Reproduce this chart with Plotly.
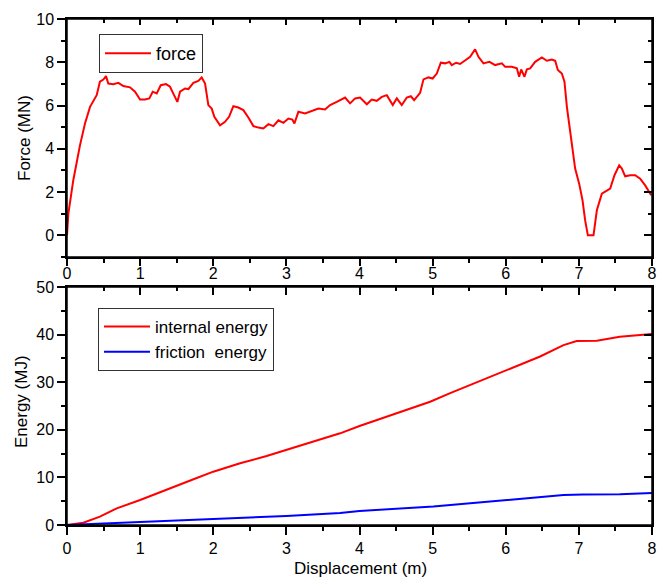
import plotly.graph_objects as go

# ---------------- data ----------------
force_x = [0.0, 0.018, 0.086, 0.178, 0.246, 0.315, 0.406, 0.45, 0.497, 0.533, 0.565, 0.634, 0.702,
           0.77, 0.862, 0.93, 0.999, 1.067, 1.126, 1.172, 1.227, 1.282, 1.354, 1.409, 1.464, 1.509,
           1.546, 1.614, 1.66, 1.728, 1.796, 1.842, 1.888, 1.933, 1.979, 2.015, 2.093, 2.161, 2.216,
           2.275, 2.343, 2.412, 2.48, 2.549, 2.617, 2.685, 2.754, 2.822, 2.891, 2.959, 3.028, 3.082,
           3.11, 3.164, 3.256, 3.347, 3.438, 3.529, 3.598, 3.689, 3.803, 3.871, 3.94, 4.008, 4.1,
           4.168, 4.236, 4.305, 4.373, 4.455, 4.51, 4.578, 4.647, 4.702, 4.747, 4.829, 4.875, 4.943,
           5.0, 5.057, 5.112, 5.17, 5.23, 5.262, 5.321, 5.376, 5.445, 5.513, 5.581, 5.627, 5.695,
           5.777, 5.855, 5.947, 5.992, 6.083, 6.152, 6.183, 6.211, 6.256, 6.289, 6.334, 6.402, 6.494,
           6.562, 6.631, 6.676, 6.712, 6.767, 6.803, 6.836, 6.881, 6.926, 6.949, 7.004, 7.05, 7.086,
           7.123, 7.2, 7.246, 7.314, 7.383, 7.428, 7.487, 7.551, 7.588, 7.633, 7.702, 7.77, 7.838,
           7.907, 7.989]
force_y = [0.0, 1.0, 2.55, 4.17, 5.17, 5.94, 6.48, 7.1, 7.2, 7.36, 7.02, 6.99, 7.05,
           6.9, 6.84, 6.64, 6.28, 6.28, 6.33, 6.64, 6.56, 6.94, 6.99, 6.87, 6.48, 6.17,
           6.64, 6.79, 6.76, 7.05, 7.14, 7.3, 7.02, 6.02, 5.86, 5.48, 5.09, 5.25, 5.48,
           5.97, 5.91, 5.79, 5.45, 5.05, 4.98, 4.94, 5.14, 5.05, 5.32, 5.2, 5.4, 5.35,
           5.17, 5.71, 5.63, 5.75, 5.86, 5.82, 6.02, 6.17, 6.37, 6.1, 6.33, 6.37, 6.06,
           6.28, 6.22, 6.4, 6.48, 6.02, 6.33, 6.02, 6.37, 6.43, 6.25, 6.59, 7.21, 7.3,
           7.25, 7.48, 7.98, 7.95, 8.02, 7.87, 7.98, 7.92, 8.07, 8.25, 8.6, 8.25, 7.95,
           8.02, 7.87, 7.95, 7.79, 7.79, 7.72, 7.33, 7.67, 7.33, 7.67, 7.72, 8.02, 8.22,
           8.07, 8.13, 8.07, 7.64, 7.48, 7.1, 5.94, 4.71, 3.47, 3.09, 2.39, 1.62, 0.69,
           0.0, 0.0, 1.16, 1.93, 2.08, 2.16, 2.78, 3.24, 3.09, 2.73, 2.78, 2.78, 2.62,
           2.31, 1.85]

internal_x = [0.0, 0.223, 0.45, 0.68, 1.0, 1.364, 1.73, 2.0, 2.367, 2.73, 3.0, 3.37, 3.735,
              4.0, 4.51, 4.966, 5.24, 5.51, 6.015, 6.47, 6.79, 6.97, 7.246, 7.56, 8.0]
internal_y = [0.0, 0.49, 1.75, 3.5, 5.25, 7.35, 9.6, 11.2, 12.96, 14.5, 15.76, 17.5, 19.26,
              20.8, 23.47, 25.9, 27.7, 29.4, 32.6, 35.4, 37.8, 38.66, 38.7, 39.55, 40.1]

friction_x = [0.0, 0.45, 1.0, 2.0, 3.0, 3.735, 4.0, 5.01, 5.51, 6.015, 6.52, 6.79, 7.06, 7.56, 8.0]
friction_y = [0.0, 0.28, 0.7, 1.3, 1.9, 2.5, 2.94, 3.9, 4.6, 5.3, 6.0, 6.3, 6.4, 6.46, 6.7]

W, H = 669, 579
FONT = "Liberation Sans, Arial, sans-serif"

fig = go.Figure()
fig.add_trace(go.Scatter(x=force_x, y=force_y, mode="lines", name="force",
                         line=dict(color="#ff0000", width=2), xaxis="x", yaxis="y",
                         legend="legend"))
fig.add_trace(go.Scatter(x=internal_x, y=internal_y, mode="lines", name="internal energy",
                         line=dict(color="#ff0000", width=2), xaxis="x3", yaxis="y3",
                         legend="legend2"))
fig.add_trace(go.Scatter(x=friction_x, y=friction_y, mode="lines", name="friction  energy",
                         line=dict(color="#0000ff", width=2), xaxis="x3", yaxis="y3",
                         legend="legend2"))
# transparent copies so that the mirrored (top / right) frame axes get drawn
for xa, ya, xs, ys in [("x2", "y2", force_x, force_y), ("x4", "y4", internal_x, internal_y)]:
    fig.add_trace(go.Scatter(x=xs, y=ys, mode="lines", line=dict(color="rgba(0,0,0,0)", width=0),
                             xaxis=xa, yaxis=ya, showlegend=False, hoverinfo="skip"))

xdom = [67 / W, 652 / W]
top_dom = [1 - 257 / H, 1 - 19 / H]
bot_dom = [1 - 525 / H, 1 - 287 / H]

def ax(**kw):
    base = dict(showgrid=False, zeroline=False, showline=True, linecolor="black", linewidth=1.5,
                tickcolor="black", tickwidth=1.5, ticklen=8, automargin=False,
                tickfont=dict(family=FONT, size=16, color="black"))
    base.update(kw)
    return base

minor_out = lambda d: dict(dtick=d, ticks="outside", ticklen=4, tickcolor="black", tickwidth=1.5)
minor_in = lambda d: dict(dtick=d, ticks="inside", ticklen=4, tickcolor="black", tickwidth=1.5)

frame = lambda xr, yr: dict(type="rect", xref=xr + " domain", yref=yr + " domain",
                            x0=0, x1=1, y0=0, y1=1, line=dict(color="black", width=1.5),
                            layer="above")

fig.update_layout(
    width=W, height=H, margin=dict(l=0, r=0, t=0, b=0),
    plot_bgcolor="white", paper_bgcolor="white", template="none",
    font=dict(family=FONT, size=16, color="black"),
    xaxis=ax(domain=xdom, anchor="y", range=[0, 8], dtick=1, tick0=0, ticks="outside",
             ticklen=7, showticklabels=False, mirror=True, minor=minor_out(0.5)),
    xaxis2=ax(domain=xdom, anchor="y2", overlaying="x", side="top", range=[0, 8], dtick=1,
              tick0=0, ticks="inside", ticklen=6, showticklabels=False, minor=minor_in(0.5)),
    yaxis=ax(domain=top_dom, anchor="x", range=[-1, 10], dtick=2, tick0=0, ticks="outside",
             mirror=True, minor=minor_out(1)),
    yaxis2=ax(domain=top_dom, anchor="x2", overlaying="y", side="right", range=[-1, 10],
              dtick=2, tick0=0, ticks="inside", showticklabels=False, minor=minor_in(1)),
    xaxis3=ax(domain=xdom, anchor="y3", range=[0, 8], dtick=1, tick0=0, ticks="outside",
              mirror=True, minor=minor_out(0.5)),
    xaxis4=ax(domain=xdom, anchor="y4", overlaying="x3", side="top", range=[0, 8], dtick=1,
              tick0=0, ticks="inside", showticklabels=True, minor=minor_in(0.5)),
    yaxis3=ax(domain=bot_dom, anchor="x3", range=[0, 50], dtick=10, tick0=0, ticks="outside",
              mirror=True, minor=minor_out(5)),
    yaxis4=ax(domain=bot_dom, anchor="x4", overlaying="y3", side="right", range=[0, 50],
              dtick=10, tick0=0, ticks="inside", showticklabels=False, minor=minor_in(5)),
    legend=dict(x=99 / W, y=1 - 34 / H, xanchor="left", yanchor="top", bgcolor="white",
                bordercolor="#333333", borderwidth=1, itemwidth=46,
                font=dict(family=FONT, size=18, color="black")),
    legend2=dict(x=98 / W, y=1 - 308 / H, xanchor="left", yanchor="top", bgcolor="white",
                 bordercolor="#333333", borderwidth=1, itemwidth=46, tracegroupgap=0,
                 font=dict(family=FONT, size=17, color="black")),
    showlegend=True,
    shapes=[frame("x", "y"), frame("x3", "y3")],
    annotations=[
        dict(text="Force (MN)", x=25 / W, y=1 - 138 / H, xref="paper", yref="paper",
             xanchor="center", yanchor="middle", textangle=-90, showarrow=False,
             font=dict(family=FONT, size=17, color="black")),
        dict(text="Energy (MJ)", x=21 / W, y=1 - 402 / H, xref="paper", yref="paper",
             xanchor="center", yanchor="middle", textangle=-90, showarrow=False,
             font=dict(family=FONT, size=17, color="black")),
        dict(text="Displacement (m)", x=360 / W, y=1 - 568 / H, xref="paper", yref="paper",
             xanchor="center", yanchor="middle", showarrow=False,
             font=dict(family=FONT, size=17, color="black")),
    ],
)

fig.write_html("out.html")
